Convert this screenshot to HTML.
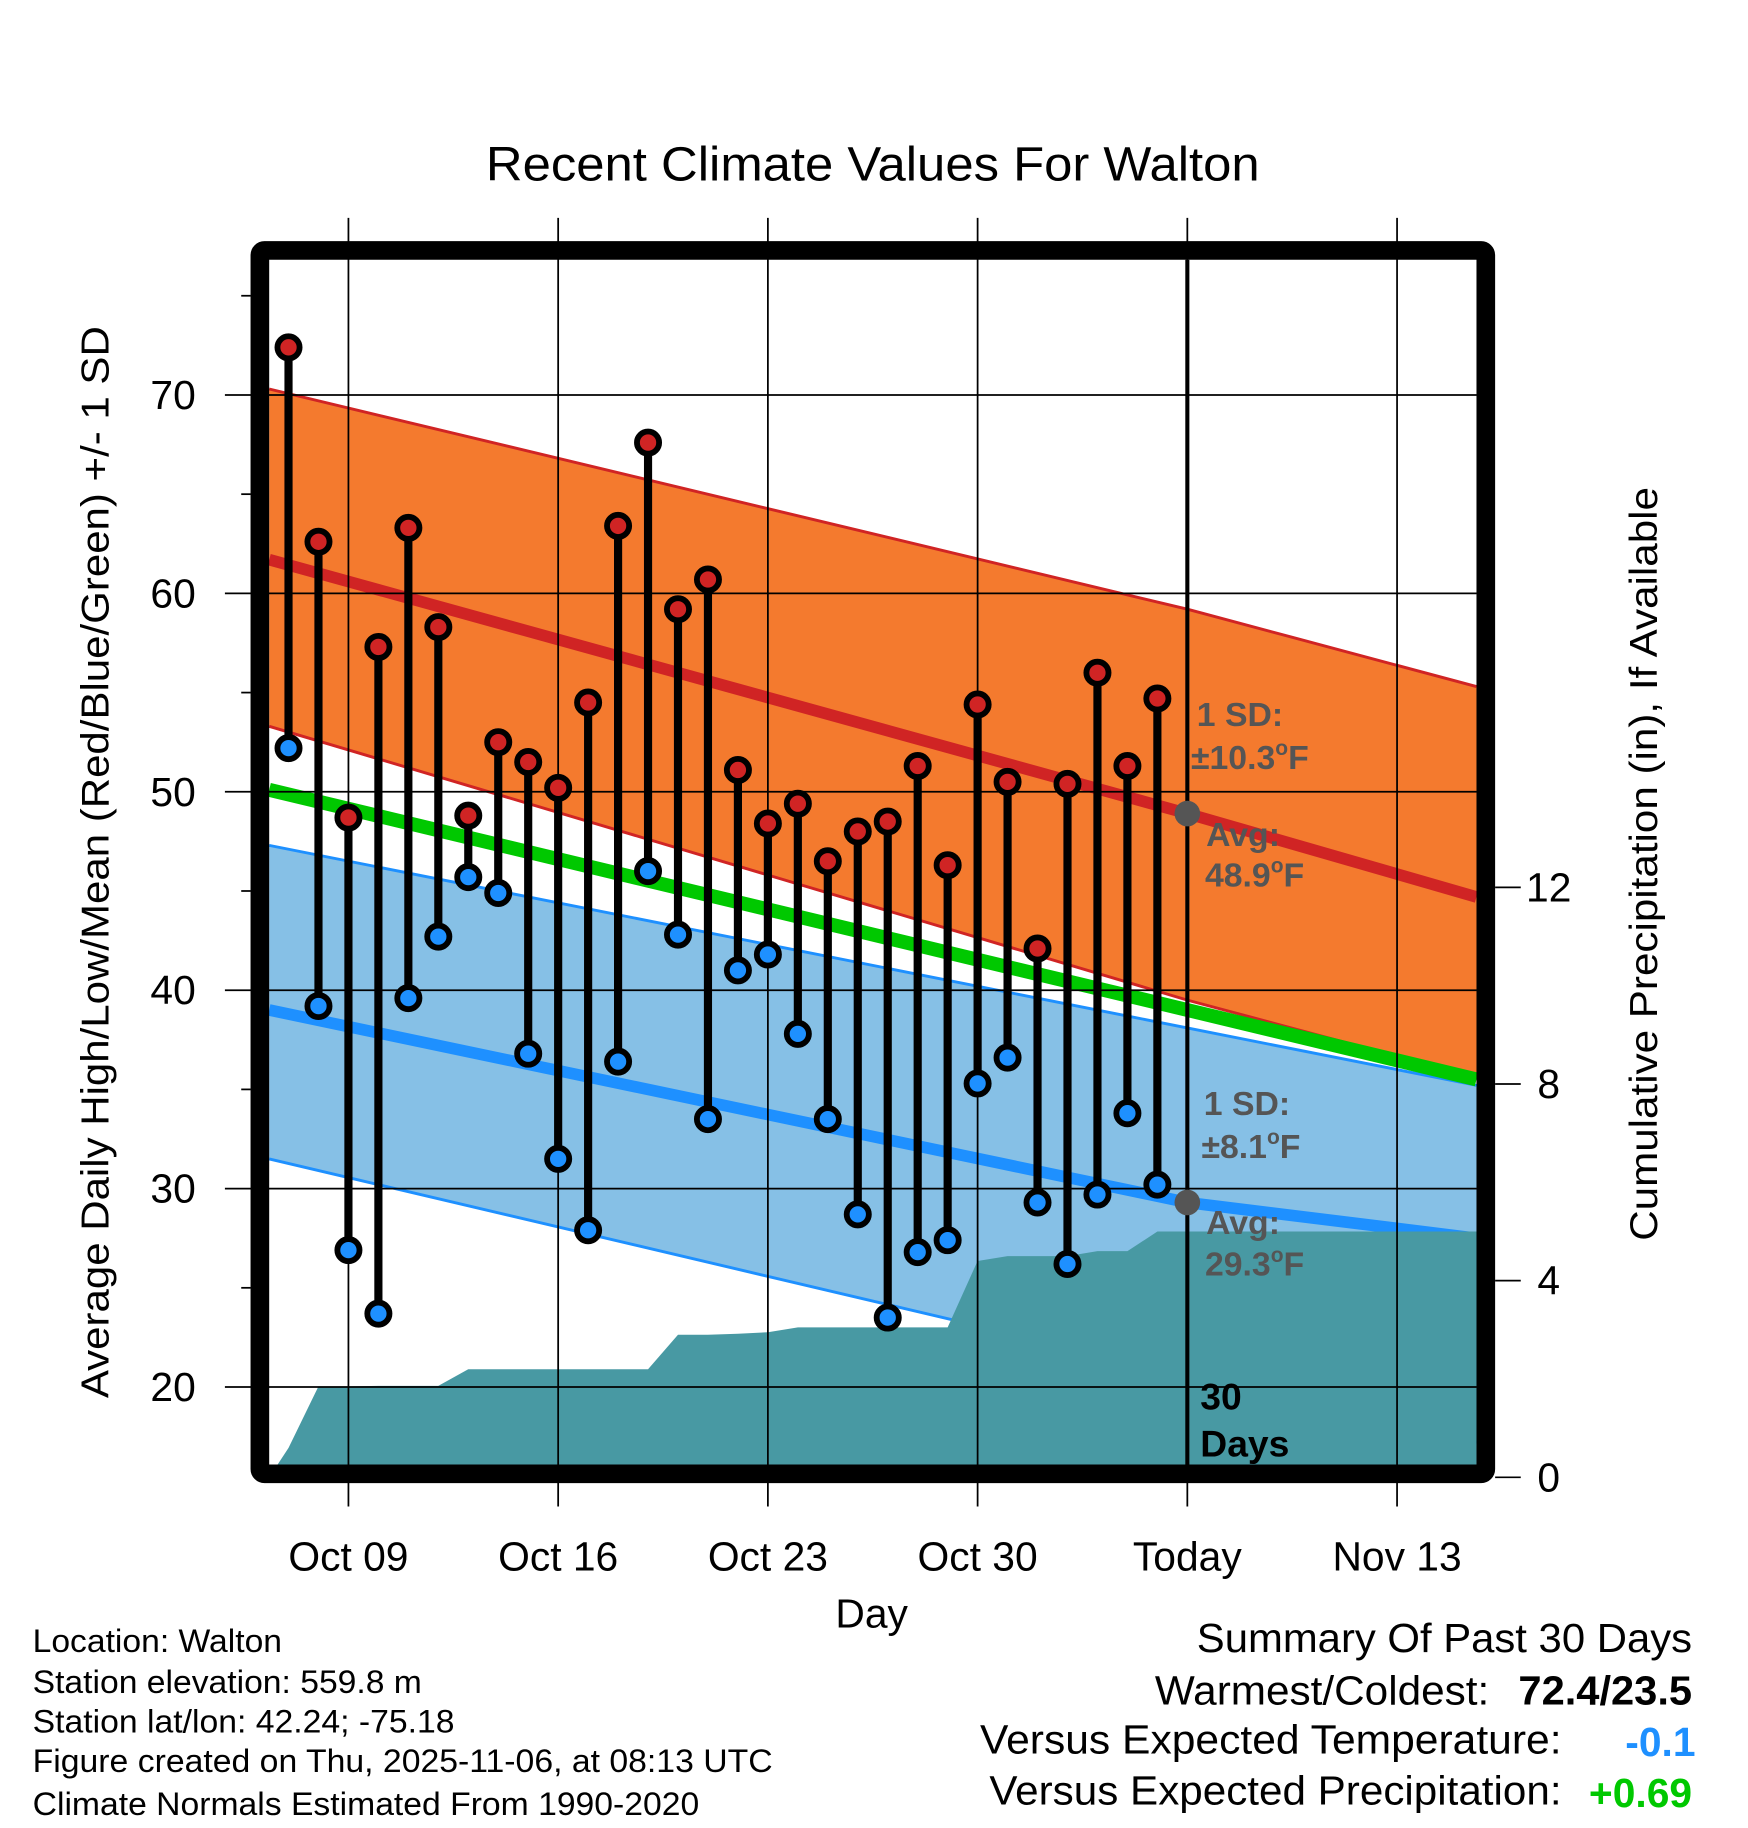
<!DOCTYPE html>
<html><head><meta charset="utf-8"><style>
html,body{margin:0;padding:0;background:#fff}
svg{display:block}
text{font-family:"Liberation Sans",Arial,sans-serif}
</style></head><body>
<svg id="chart" width="1748" height="1828" viewBox="0 0 1500 1569" preserveAspectRatio="none" xmlns="http://www.w3.org/2000/svg">
<g id="bands"></g><g id="precip"></g><g id="grid"></g><g id="marks"></g><g id="frame"></g><g id="labels"></g>
</svg>
<script>
// ---- data ----
const dayLabels = ["Oct 09","Oct 16","Oct 23","Oct 30","Today","Nov 13"];
const dayLabelOffsets = [0,7,14,21,28,35];
const yTicks = [20,30,40,50,60,70];
const precipTicks = [0,4,8,12];
// observed, day offset from Oct 09 (Oct 07 = -2 ... Nov 05 = 27)
const obsDays = [-2,-1,0,1,2,3,4,5,6,7,8,9,10,11,12,13,14,15,16,17,18,19,20,21,22,23,24,25,26,27];
const highs = [72.4,62.6,48.7,57.3,63.3,58.3,48.8,52.5,51.5,50.2,54.5,63.4,67.6,59.2,60.7,51.1,48.4,49.4,46.5,48.0,48.5,51.3,46.3,54.4,50.5,42.1,50.4,56.0,51.3,54.7];
const lows = [52.2,39.2,26.9,23.7,39.6,42.7,45.7,44.9,36.8,31.5,27.9,36.4,46.0,42.8,33.5,41.0,41.8,37.8,33.5,28.7,23.5,26.8,27.4,35.3,36.6,29.3,26.2,29.7,33.8,30.2];
const precipDays = [-2.645,-2,-1,0,1,2,3,4,5,6,7,8,9,10,11,12,13,14,15,16,17,18,19,20,21,22,23,24,25,26,27,37.65];
const precipCum = [0,0.6,1.85,1.85,1.86,1.86,1.86,2.2,2.2,2.2,2.2,2.2,2.2,2.2,2.9,2.9,2.92,2.95,3.05,3.05,3.05,3.05,3.05,3.05,4.4,4.5,4.5,4.5,4.6,4.6,5.0,5.0];
// normals at left edge, today, right edge
const normDays = [-2.645,28,37.65];
const normHighAvg = [61.7,48.9,44.7];
const normHighUp = [70.3,59.2,55.3];
const normHighLo = [53.3,39.5,35.6];
const normLowAvg = [39.0,29.3,27.5];
const normLowUp = [47.3,38.1,35.2];
const normLowLo = [31.5,20.6,17.2];
const normMean = [50.1,39.0,35.5];

// ---- axes ----
const X = d => 299 + d*25.71;
const Y = v => 339 + (70-v)*17.03;
const P = p => 1268 - p*42.2;
const NS="http://www.w3.org/2000/svg";
function mk(parent,tag,attrs,text){const e=document.createElementNS(NS,tag);for(const k in attrs)e.setAttribute(k,attrs[k]);if(text!==undefined)e.textContent=text;document.getElementById(parent).appendChild(e);return e;}
function pts(days,vals,f){return days.map((d,i)=>X(d).toFixed(1)+","+f(vals[i]).toFixed(1));}

let e;
e=mk("bands","polygon",{points:pts(normDays,normHighUp,Y).concat(pts(normDays,normHighLo,Y).reverse()).join(" "),fill:"#f47a2e"});


e=mk("bands","polygon",{points:pts(normDays,normLowUp,Y).concat(pts(normDays,normLowLo,Y).reverse()).join(" "),fill:"#86c0e6"});


[[normHighUp,"#d02424",2.5,"high-upper-edge"],[normHighLo,"#d02424",2.5,"high-lower-edge"],[normLowUp,"#1e90ff",2.5,"low-upper-edge"],[normLowLo,"#1e90ff",2.5,"low-lower-edge"],[normMean,"#00c800",12,"normal-mean-line"],[normHighAvg,"#d02424",10,"normal-high-line"],[normLowAvg,"#1e90ff",10,"normal-low-line"]].forEach(a=>{
  e=mk("bands","polyline",{points:pts(normDays,a[0],Y).join(" "),fill:"none",stroke:a[1],"stroke-width":a[2]});
  
  
});
e=mk("precip","polygon",{points:pts(precipDays,precipCum,P).concat([X(37.65)+","+P(0),X(-2.645)+","+P(0)]).join(" "),fill:"#4899a3"});



dayLabelOffsets.forEach((d,i)=>{
  mk("grid","line",{x1:X(d),x2:X(d),y1:187,y2:1293,stroke:"#000","stroke-width":1.5});
  e=mk("labels","text",{x:X(d),y:1348,"font-size":35,"text-anchor":"middle"},dayLabels[i]);
  
  
});
yTicks.forEach(v=>{
  mk("grid","line",{x1:193,x2:1267,y1:Y(v),y2:Y(v),stroke:"#000","stroke-width":1.5});
  e=mk("labels","text",{x:168,y:Y(v)+12,"font-size":35,"text-anchor":"end"},v);
  
  
});
[25,35,45,55,65,75].forEach(v=>mk("grid","line",{x1:207,x2:215,y1:Y(v),y2:Y(v),stroke:"#000","stroke-width":1.5}));
precipTicks.forEach(p=>{
  mk("grid","line",{x1:1283,x2:1305,y1:P(p),y2:P(p),stroke:"#000","stroke-width":1.5});
  e=mk("labels","text",{x:1329,y:P(p)+12,"font-size":35,"text-anchor":"middle"},p);
  
  
});
mk("grid","line",{x1:X(28),x2:X(28),y1:223,y2:1260,stroke:"#000","stroke-width":3.5});

obsDays.forEach((d,i)=>{
  e=mk("marks","line",{x1:X(d),x2:X(d),y1:Y(highs[i]),y2:Y(lows[i]),stroke:"#000","stroke-width":7});
  
  
  e=mk("marks","circle",{cx:X(d),cy:Y(highs[i]),r:9.5,fill:"#d02424",stroke:"#000","stroke-width":5});
  
  
  e=mk("marks","circle",{cx:X(d),cy:Y(lows[i]),r:9.5,fill:"#1e90ff",stroke:"#000","stroke-width":5});
  
  
});
e=mk("marks","circle",{cx:X(28),cy:Y(48.9),r:11,fill:"#555"});


e=mk("marks","circle",{cx:X(28),cy:Y(29.3),r:11,fill:"#555"});



e=mk("frame","rect",{x:223,y:215,width:1052,height:1050,fill:"none",stroke:"#000","stroke-width":16,rx:4});


</script>
<svg style="position:absolute;left:0;top:0" width="1748" height="1828" viewBox="0 0 1500 1569" preserveAspectRatio="none" xmlns="http://www.w3.org/2000/svg">
<g font-family="Liberation Sans, Arial, sans-serif">
<text x="417" y="155" font-size="41" textLength="664" lengthAdjust="spacingAndGlyphs">Recent Climate Values For Walton</text>
<text transform="translate(93,1200) rotate(-90)" font-size="33" textLength="920" lengthAdjust="spacingAndGlyphs">Average Daily High/Low/Mean (Red/Blue/Green) +/- 1 SD</text>
<text transform="translate(1422,1065) rotate(-90)" font-size="33" textLength="647" lengthAdjust="spacingAndGlyphs">Cumulative Precipitation (in), If Available</text>
<text x="748" y="1397" font-size="35" text-anchor="middle">Day</text>
<g font-weight="bold" fill="#555" font-size="29">
<text x="1027" y="623">1 SD:</text>
<text x="1022" y="660">±10.3<tspan dy="-12" font-size="18">o</tspan><tspan dy="12">F</tspan></text>
<text x="1035" y="726">Avg:</text>
<text x="1034" y="761">48.9<tspan dy="-12" font-size="18">o</tspan><tspan dy="12">F</tspan></text>
<text x="1033" y="957">1 SD:</text>
<text x="1031" y="994">±8.1<tspan dy="-12" font-size="18">o</tspan><tspan dy="12">F</tspan></text>
<text x="1035" y="1059">Avg:</text>
<text x="1034" y="1095">29.3<tspan dy="-12" font-size="18">o</tspan><tspan dy="12">F</tspan></text>
</g>
<text x="1030" y="1210" font-size="32" font-weight="bold">30</text>
<text x="1030" y="1250" font-size="32" font-weight="bold">Days</text>
<g font-size="28">
<text x="28" y="1418" textLength="214" lengthAdjust="spacingAndGlyphs">Location: Walton</text>
<text x="28" y="1453" textLength="334" lengthAdjust="spacingAndGlyphs">Station elevation: 559.8 m</text>
<text x="28" y="1487" textLength="362" lengthAdjust="spacingAndGlyphs">Station lat/lon: 42.24; -75.18</text>
<text x="28" y="1521" textLength="635" lengthAdjust="spacingAndGlyphs">Figure created on Thu, 2025-11-06, at 08:13 UTC</text>
<text x="28" y="1558" textLength="572" lengthAdjust="spacingAndGlyphs">Climate Normals Estimated From 1990-2020</text>
</g>
<g font-size="35">
<text x="1027" y="1418" textLength="425" lengthAdjust="spacingAndGlyphs">Summary Of Past 30 Days</text>
<text x="991" y="1463" textLength="287" lengthAdjust="spacingAndGlyphs">Warmest/Coldest:</text>
<text x="1303" y="1463" font-weight="bold" textLength="149" lengthAdjust="spacingAndGlyphs">72.4/23.5</text>
<text x="841" y="1505" textLength="499" lengthAdjust="spacingAndGlyphs">Versus Expected Temperature:</text>
<text x="1455" y="1507" font-weight="bold" fill="#1e90ff" text-anchor="end">-0.1</text>
<text x="849" y="1549" textLength="491" lengthAdjust="spacingAndGlyphs">Versus Expected Precipitation:</text>
<text x="1452" y="1551" font-weight="bold" fill="#00c800" text-anchor="end">+0.69</text>
</g>
</g>
</svg>
</body></html>
